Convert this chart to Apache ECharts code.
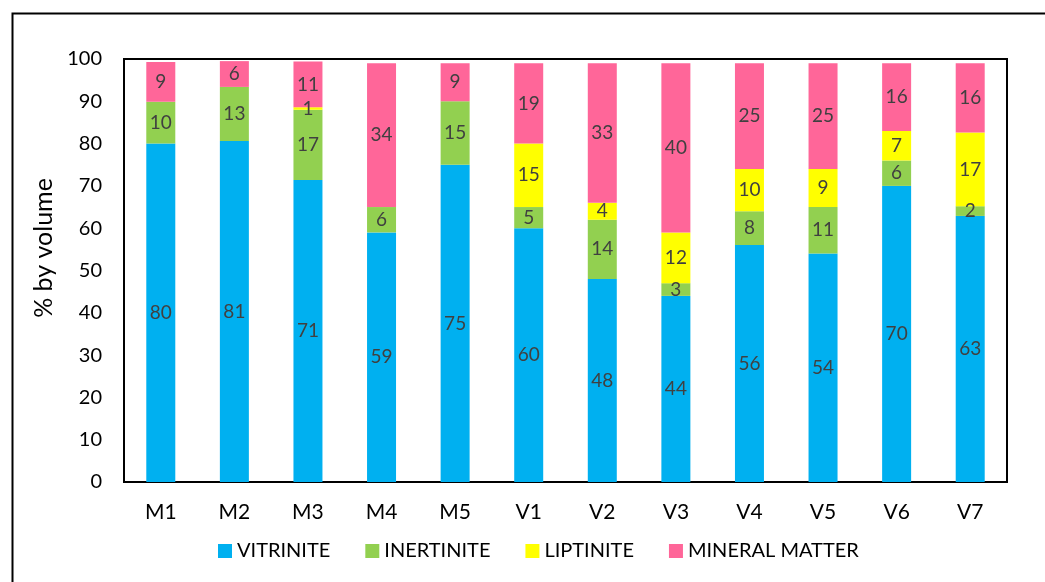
<!DOCTYPE html>
<html>
<head>
<meta charset="utf-8">
<script src="https://cdn.jsdelivr.net/npm/echarts@6/dist/echarts.min.js"></script>
<style>
  html, body { margin: 0; padding: 0; background: #fff; }
  #chart { width: 1045px; height: 582px; }
</style>
</head>
<body>
<div id="chart"></div>
<script>
const samples = ['M1', 'M2', 'M3', 'M4', 'M5', 'V1', 'V2', 'V3', 'V4', 'V5', 'V6', 'V7'];
// labels show rounded values, heights
const vitrinite = [80, 80.6, 71.4, 59, 75, 60, 48, 44, 56, 54, 70, 62.9];
const inertinite = [9.9, 12.8, 16.6, 6, 15, 5, 14, 3, 8, 11, 6, 2.3];
const liptinite = [0, 0, 0.6, 0, 0, 15, 4, 12, 10, 9, 7, 17.4];
const mineralMatter = [9.4, 6.1, 10.8, 34, 9, 19, 33, 40, 25, 25, 16, 16.4];

const FONT = 'Lato';

function seg(name, data, color) {
  return {
    name: name,
    type: 'bar',
    stack: 'total',
    barWidth: 29,
    data: data,
    itemStyle: { color: color },
    label: {
      show: true,
      position: 'inside',
      color: '#404040',
      fontFamily: FONT,
      fontSize: 19,
      formatter: p => (p.value ? Math.round(p.value) : '')
    }
  };
}

const chart = echarts.init(document.getElementById('chart'));
chart.setOption({
  animation: false,
  graphic: [{
    type: 'rect',
    left: 10, top: 11,
    shape: { width: 1100, height: 700 },
    style: { fill: 'none', stroke: '#000', lineWidth: 2 }
  }, {
    type: 'text',
    x: 44, y: 248,
    rotation: Math.PI / 2,
    style: {
      text: '% by volume',
      fontFamily: FONT, fontSize: 25, fill: '#000',
      align: 'center', verticalAlign: 'middle'
    }
  }],
  grid: {
    left: 124, right: 38, top: 59, bottom: 100,
    show: true, borderColor: '#000', borderWidth: 2
  },
  legend: {
    left: 213, top: 536,
    itemWidth: 14, itemHeight: 14, itemGap: 35,
    icon: 'rect',
    textStyle: { fontFamily: FONT, fontSize: 20, color: '#000' },
    data: ['VITRINITE', 'INERTINITE', 'LIPTINITE', 'MINERAL MATTER']
  },
  xAxis: {
    type: 'category',
    data: samples,
    axisLine: { lineStyle: { color: '#000', width: 2 } },
    axisTick: { show: false },
    axisLabel: { color: '#000', fontFamily: FONT, fontSize: 21, margin: 20 }
  },
  yAxis: {
    type: 'value',
    min: 0, max: 100, interval: 10,
    splitLine: { show: false },
    axisLine: { show: false },
    axisTick: { show: false },
    axisLabel: { color: '#000', fontFamily: FONT, fontSize: 20, margin: 22 }
  },
  series: [
    seg('VITRINITE', vitrinite, '#00B0F0'),
    seg('INERTINITE', inertinite, '#92D050'),
    seg('LIPTINITE', liptinite, '#FFFF00'),
    seg('MINERAL MATTER', mineralMatter, '#FF6699')
  ]
});
</script>
</body>
</html>
